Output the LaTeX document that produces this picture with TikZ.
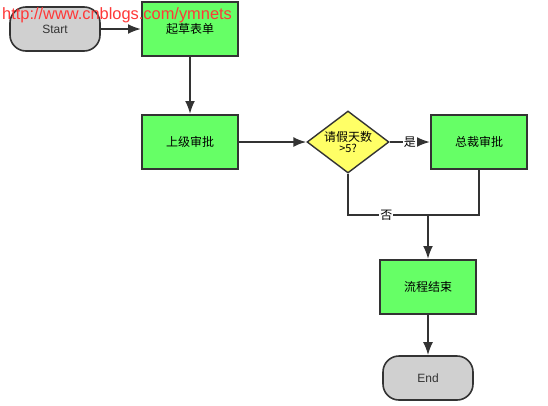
\documentclass[tikz,border=0pt]{standalone}
\usepackage{fontspec}
\setmainfont{Liberation Sans}
\newfontfamily\cjk{Noto Sans CJK SC}
\usepackage{xcolor}
\usetikzlibrary{shapes.geometric, arrows.meta, positioning}

\definecolor{linegray}{HTML}{333333}
\definecolor{termgray}{HTML}{D0D0D0}
\definecolor{boxgreen}{HTML}{66FF66}
\definecolor{decyellow}{HTML}{FFFF66}
\definecolor{urlred}{HTML}{FF3838}

\begin{document}
\begin{tikzpicture}[x=1pt, y=-1pt,
    % Styles
    terminal/.style={
        rectangle,
        rounded corners=16pt,
        fill=termgray,
        draw=linegray,
        line width=1.6pt,
        minimum width=90pt,
        minimum height=44pt,
        font=\fontsize{12}{14}\selectfont,
        text=black!80
    },
    process/.style={
        rectangle,
        fill=boxgreen,
        draw=linegray,
        line width=2pt,
        minimum width=96pt,
        minimum height=54pt,
        align=center,
        font=\cjk\fontsize{12}{14}\selectfont
    },
    decision/.style={
        diamond,
        aspect=1.32,
        fill=decyellow,
        draw=linegray,
        line width=1.4pt,
        inner sep=0pt,
        minimum width=82pt,
        minimum height=62pt,
        align=center,
        font=\cjk\fontsize{12}{12}\selectfont
    },
    flow/.style={
        draw=linegray,
        line width=2pt,
        -{Latex[length=13pt,width=10pt]}
    },
    plain/.style={
        draw=linegray,
        line width=2pt
    },
    edgelabel/.style={
        fill=white,
        inner sep=1pt,
        font=\cjk\fontsize{12}{14}\selectfont
    }
]
\useasboundingbox (0,0) rectangle (548,405);

% Start and first steps
\node[terminal] (start) at (55, 29) {Start};
\node[process] (draft) at (190, 29) {起草表单};
\node[process] (mgr) at (190, 142) {上级审批};

% Decision branch
\node[decision] (days) at (348, 142) {请假天数\\[-1pt]{\fontsize{11}{11}\selectfont >5?}};
\node[process] (ceo) at (479, 142) {总裁审批};

% End of flow
\coordinate (join) at (428, 215);
\node[process] (finish) at (428, 287) {流程结束};
\node[terminal] (stop) at (428, 378) {End};

% Connectors
\draw[flow] (start) -- (draft);
\draw[flow] (draft) -- (mgr);
\draw[flow] (mgr) -- (days);
\draw[flow] (days) -- node[edgelabel] {是} (ceo);
\draw[plain] (days.south) |- node[edgelabel, pos=0.74] {否} (join);
\draw[plain] (ceo.south) |- (join);
\draw[flow] (join) -- (finish);
\draw[flow] (finish) -- (stop);

% Watermark
\node[anchor=base west, inner sep=0pt, text=urlred, font=\fontsize{16.4}{18}\selectfont] (url) at (2, 19) {http://www.cnblogs.com/ymnets};

\end{tikzpicture}
\end{document}
